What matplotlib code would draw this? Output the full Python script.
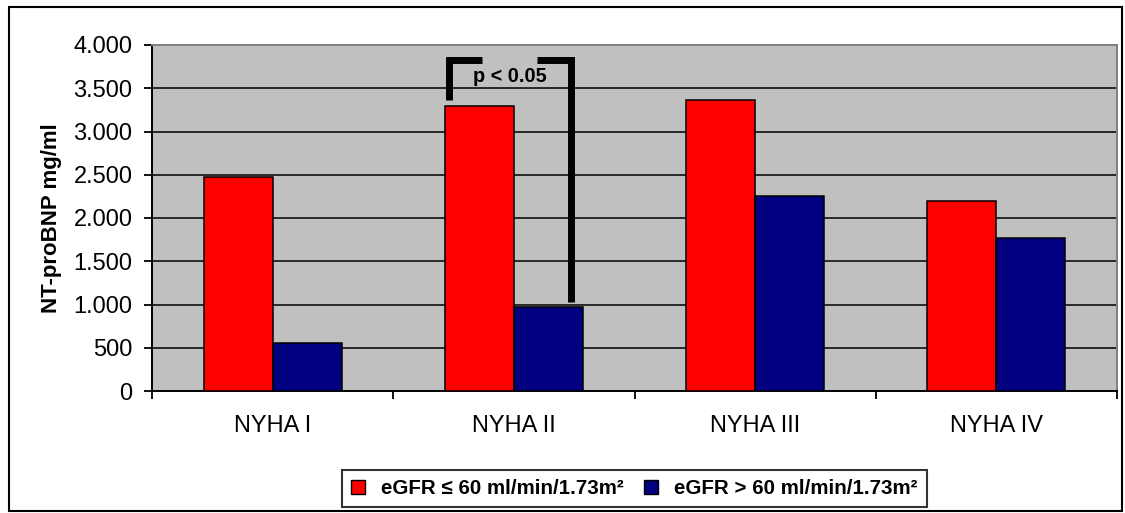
import numpy as np
import matplotlib
matplotlib.use("Agg")
import matplotlib.pyplot as plt
from matplotlib.patches import Patch, Rectangle

plt.rcParams['font.family'] = ['Liberation Sans', 'DejaVu Sans']

# ── Data ───────────────────────────────────────────────────────
categories = ['NYHA I', 'NYHA II', 'NYHA III', 'NYHA IV']
egfr_low   = [2474, 3295, 3360, 2197]   # eGFR <= 60
egfr_high  = [555, 971, 2254, 1769]     # eGFR > 60
series_labels = ['eGFR \u2264 60 ml/min/1.73m\u00b2',
                 'eGFR > 60 ml/min/1.73m\u00b2']
yticks = [0, 500, 1000, 1500, 2000, 2500, 3000, 3500, 4000]
ytick_labels = ['0', '500', '1.000', '1.500', '2.000', '2.500',
                '3.000', '3.500', '4.000']

RED  = '#ff0000'
NAVY = '#000080'
GRAY_BG = '#c0c0c0'

# ── Figure ─────────────────────────────────────────────────────
fig = plt.figure(figsize=(11.25, 5.13), dpi=100)
ax = fig.add_axes([152/1125, 1-391/513, 965/1125, 346/513])
ax.set_facecolor(GRAY_BG)

x = np.arange(len(categories))
w = 2/7
ax.bar(x - w/2, egfr_low,  width=w, color=RED,  edgecolor='black',
       linewidth=1.1, zorder=3)
ax.bar(x + w/2, egfr_high, width=w, color=NAVY, edgecolor='black',
       linewidth=1.1, zorder=3)

# gridlines
for yv in yticks[1:-1]:
    ax.axhline(yv, color='black', lw=1.1, zorder=1)

ax.set_xlim(-0.5, len(categories) - 0.5)
ax.set_ylim(0, 4000)

ax.set_yticks(yticks)
ax.set_yticklabels(ytick_labels, fontsize=17)
ax.set_xticks(x)
ax.set_xticklabels(categories, fontsize=17)
ax.set_xticks(np.arange(-0.5, len(categories)), minor=True)
ax.tick_params(axis='x', which='major', length=0, pad=17)
ax.tick_params(axis='x', which='minor', length=6, width=1.3, direction='out')
ax.tick_params(axis='y', length=6, width=1.3, pad=8)

ax.spines['left'].set_color('black')
ax.spines['left'].set_linewidth(1.4)
ax.spines['bottom'].set_color('black')
ax.spines['bottom'].set_linewidth(1.4)
ax.spines['top'].set_color('#808080')
ax.spines['right'].set_color('#808080')
ax.spines['top'].set_linewidth(1.4)
ax.spines['right'].set_linewidth(1.4)

ax.set_ylabel('NT-proBNP mg/ml', fontsize=16, fontweight='bold', labelpad=8)

# significance bracket (NYHA II)
ax.plot([0.731, 0.731, 0.868], [3364, 3827, 3827], color='black', lw=5,
        solid_capstyle='butt', solid_joinstyle='miter', zorder=5, clip_on=False)
ax.plot([1.096, 1.235, 1.235], [3827, 3827, 1029], color='black', lw=5,
        solid_capstyle='butt', solid_joinstyle='miter', zorder=5, clip_on=False)
ax.text(0.984, 3640, 'p < 0.05', fontsize=14.3, fontweight='bold',
        ha='center', va='center', zorder=6)

# legend
handles = [Patch(facecolor=RED, edgecolor='black', lw=1),
           Patch(facecolor=NAVY, edgecolor='black', lw=1)]
leg = fig.legend(handles, series_labels, loc='center', ncol=2,
                 bbox_to_anchor=(634.5/1125, 1-488.5/513),
                 prop={'size': 14.8, 'weight': 'bold'}, frameon=True,
                 fancybox=False, edgecolor='black', handlelength=0.65,
                 handleheight=0.65, handletextpad=0.8, columnspacing=1.0,
                 borderpad=0.45)
leg.get_frame().set_linewidth(1.5)

# outer border
fig.patches.append(Rectangle((9/1125, 1-511/513), 1113/1125, 504/513,
                             transform=fig.transFigure, fill=False,
                             edgecolor='black', lw=1.5))

fig.savefig('out.png', dpi=100, facecolor='white')
